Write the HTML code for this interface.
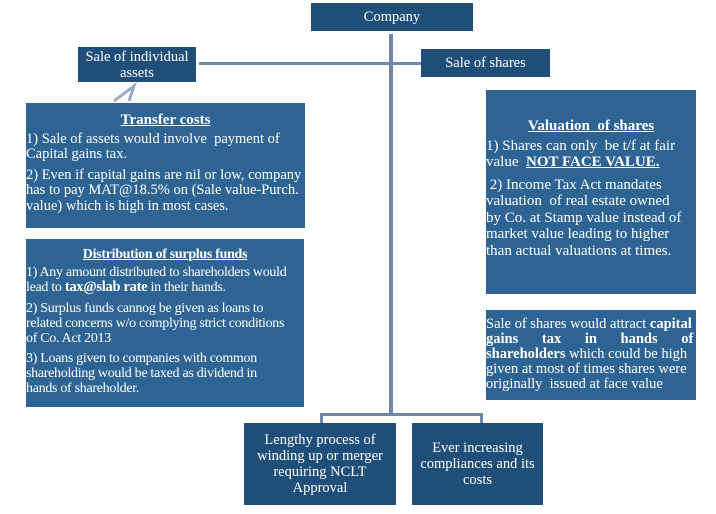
<!DOCTYPE html>
<html><head><meta charset="utf-8"><style>
body{margin:0;width:716px;height:514px;background:#fff;position:relative;overflow:hidden;font-family:"Liberation Serif",serif;color:#fff}
.b{position:absolute;box-sizing:border-box;overflow:hidden}
.d{background:#1f4e79}
.m{background:#2e6494}
.c{display:flex;align-items:center;justify-content:center;text-align:center;font-size:14.5px;line-height:16px;white-space:nowrap}
.l{position:absolute;background:#6d86ab}
p{margin:0;white-space:nowrap}
.h{text-align:center;font-weight:bold;text-decoration:underline;margin-bottom:3px;white-space:nowrap}
</style></head><body>
<div class="l" style="left:389px;top:34px;width:4px;height:382px"></div>
<div class="l" style="left:199px;top:62px;width:222px;height:3px"></div>
<div class="l" style="left:320px;top:413px;width:163px;height:3px"></div>
<div class="l" style="left:320px;top:413px;width:3px;height:10px"></div>
<div class="l" style="left:480px;top:413px;width:3px;height:10px"></div>
<svg style="position:absolute;left:108px;top:82px" width="32" height="22"><polyline points="6,19 26,4 21,19" fill="none" stroke="#9aabc6" stroke-width="3"/></svg>

<div class="b d c" style="left:311px;top:3px;width:162px;height:28px">Company</div>
<div class="b d c" style="left:78px;top:47px;width:118px;height:35px">Sale of individual<br>assets</div>
<div class="b d c" style="left:421px;top:49px;width:129px;height:28px">Sale of shares</div>

<div class="b m" style="left:26px;top:103px;width:279px;height:125px;padding-top:10px;font-size:14.5px;line-height:15.5px">
<div class="h" style="font-size:15px">Transfer costs</div>
<p>1) Sale of assets would involve &nbsp;payment of</p>
<p>Capital gains tax.</p>
<p style="margin-top:5px">2) Even if capital gains are nil or low, company</p>
<p>has to pay MAT@18.5% on (Sale value-Purch.</p>
<p>value) which is high in most cases.</p>
</div>

<div class="b m" style="left:26px;top:239px;width:278px;height:168px;padding-top:8px;font-size:14px;line-height:15px;letter-spacing:-0.3px">
<div class="h" style="font-size:14px">Distribution of surplus funds</div>
<p>1) Any amount distributed to shareholders would</p>
<p>lead to <b style="font-size:14.5px">tax@slab rate</b> in their hands.</p>
<p style="margin-top:6px">2) Surplus funds cannog be given as loans to</p>
<p>related concerns w/o complying strict conditions</p>
<p>of Co. Act 2013</p>
<p style="margin-top:5px">3) Loans given to companies with common</p>
<p>shareholding would be taxed as dividend in</p>
<p>hands of shareholder.</p>
</div>

<div class="b m" style="left:486px;top:90px;width:210px;height:204px;padding-top:28px;font-size:15px;line-height:16.5px">
<div class="h" style="font-size:15px">Valuation &nbsp;of shares</div>
<p>1) Shares can only &nbsp;be t/f at fair</p>
<p>value &nbsp;<b style="text-decoration:underline">NOT FACE VALUE.</b></p>
<p style="margin-top:6px">&nbsp;2) Income Tax Act mandates</p>
<p>valuation &nbsp;of real estate owned</p>
<p>by Co. at Stamp value instead of</p>
<p>market value leading to higher</p>
<p>than actual valuations at times.</p>
</div>

<div class="b m" style="left:486px;top:310px;width:210px;height:90px;padding-top:7px;font-size:14.5px;line-height:15px">
<p>Sale of shares would attract <b>capital</b></p>
<p style="word-spacing:20px"><b>gains tax in hands of</b></p>
<p><b>shareholders</b> which could be high</p>
<p>given at most of times shares were</p>
<p>originally &nbsp;issued at face value</p>
</div>

<div class="b d c" style="left:244px;top:423px;width:152px;height:82px">Lengthy process of<br>winding up or merger<br>requiring NCLT<br>Approval</div>
<div class="b d c" style="left:412px;top:423px;width:131px;height:82px">Ever increasing<br>compliances and its<br>costs</div>
</body></html>
